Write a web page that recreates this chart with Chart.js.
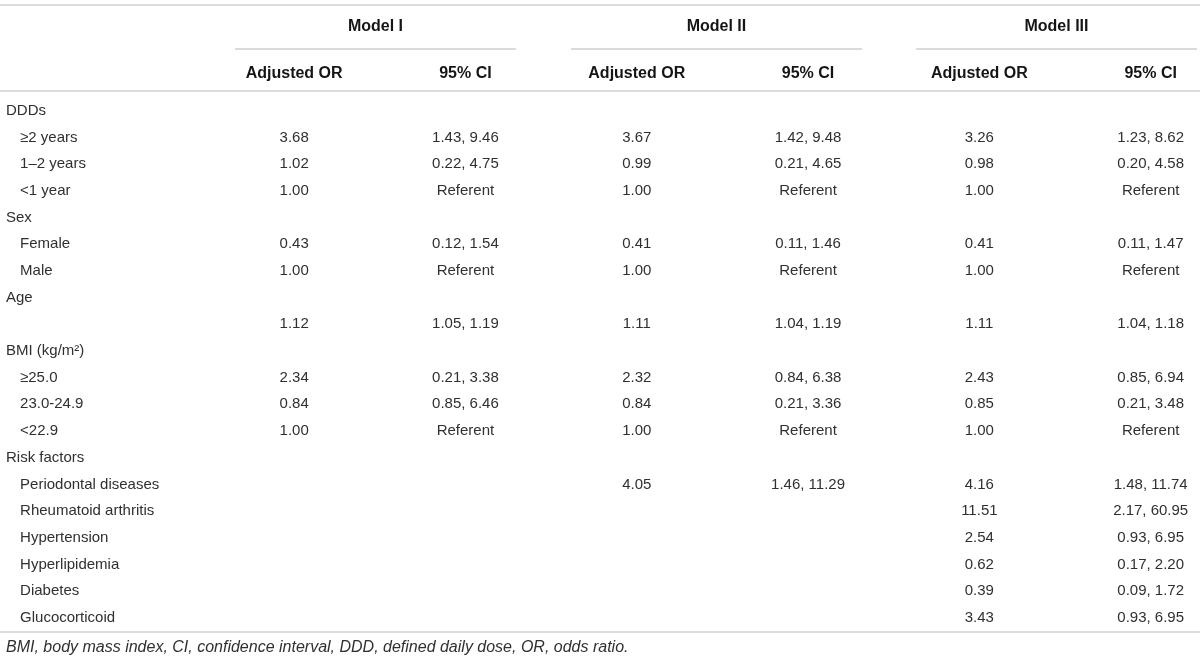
<!DOCTYPE html>
<html>
<head>
<meta charset="utf-8">
<script src="https://cdn.jsdelivr.net/npm/chart.js@4.4.1/dist/chart.umd.min.js"></script>
<style>
  html, body { margin: 0; padding: 0; background: #ffffff; }
  #wrap { width: 1200px; height: 670px; position: relative; }
</style>
</head>
<body>
<div id="wrap"><canvas id="c"></canvas></div>
<script>
// ---------- DATA ----------
const modelNames = ["Model I", "Model II", "Model III"];
const columnHeaders = ["Adjusted OR", "95% CI"];
const rowLabels = ["DDDs", "≥2 years", "1–2 years", "<1 year", "Sex", "Female", "Male", "Age", "",
  "BMI (kg/m²)", "≥25.0", "23.0-24.9", "<22.9", "Risk factors", "Periodontal diseases",
  "Rheumatoid arthritis", "Hypertension", "Hyperlipidemia", "Diabetes", "Glucocorticoid"];
const rowLevels = [0, 1, 1, 1, 0, 1, 1, 0, 1, 0, 1, 1, 1, 0, 1, 1, 1, 1, 1, 1];

const modelI_OR = [null, 3.68, 1.02, 1.00, null, 0.43, 1.00, null, 1.12, null, 2.34, 0.84, 1.00,
  null, null, null, null, null, null, null];
const modelI_CI = [null, "1.43, 9.46", "0.22, 4.75", "Referent", null, "0.12, 1.54", "Referent", null,
  "1.05, 1.19", null, "0.21, 3.38", "0.85, 6.46", "Referent", null, null, null, null, null, null, null];
const modelII_OR = [null, 3.67, 0.99, 1.00, null, 0.41, 1.00, null, 1.11, null, 2.32, 0.84, 1.00,
  null, 4.05, null, null, null, null, null];
const modelII_CI = [null, "1.42, 9.48", "0.21, 4.65", "Referent", null, "0.11, 1.46", "Referent", null,
  "1.04, 1.19", null, "0.84, 6.38", "0.21, 3.36", "Referent", null, "1.46, 11.29", null, null, null, null, null];
const modelIII_OR = [null, 3.26, 0.98, 1.00, null, 0.41, 1.00, null, 1.11, null, 2.43, 0.85, 1.00,
  null, 4.16, 11.51, 2.54, 0.62, 0.39, 3.43];
const modelIII_CI = [null, "1.23, 8.62", "0.20, 4.58", "Referent", null, "0.11, 1.47", "Referent", null,
  "1.04, 1.18", null, "0.85, 6.94", "0.21, 3.48", "Referent", null, "1.48, 11.74", "2.17, 60.95",
  "0.93, 6.95", "0.17, 2.20", "0.09, 1.72", "0.93, 6.95"];
const footnote = "BMI, body mass index, CI, confidence interval, DDD, defined daily dose, OR, odds ratio.";

// ---------- BUILD ----------
const columns = [modelI_OR, modelI_CI, modelII_OR, modelII_CI, modelIII_OR, modelIII_CI];
const cellText = v => (typeof v === "number" ? v.toFixed(2) : v);

// layout in scale units (rows on y, columns on x)
const LAYOUT = {
  topRule: -3.97, modelTitle: -3.17, modelRule: -2.32, colHead: -1.40, headRule: -0.76,
  bottomRule: 19.52, footnote: 20.12,
  labelX: [-1.682, -1.600],
  modelRuleFrom: [-0.345, -0.384, -0.37],
  modelRuleTo: [1.295, 1.315, 1.275]
};

const datasets = columns.map((col, c) => ({
  label: columnHeaders[c % 2] + " " + modelNames[Math.floor(c / 2)],
  data: col.map((v, r) => (v === null ? null : { x: c, y: r, t: cellText(v) })).filter(Boolean),
  pointRadius: 0,
  pointHoverRadius: 0,
  showLine: false
}));
datasets.push({
  label: "rows",
  data: rowLabels.map((t, r) => ({ x: LAYOUT.labelX[rowLevels[r]], y: r, t: t })),
  pointRadius: 0,
  pointHoverRadius: 0,
  showLine: false
});

const FONT = "'Liberation Sans', Arial, Helvetica, sans-serif";
const STYLE = {
  body: "15px " + FONT,
  bold: "bold 16px " + FONT,
  foot: "italic 16px " + FONT,
  text: "#303030",
  head: "#151515",
  rule: "#cfcfcf",
  ruleLight: "#dcdcdc"
};

const tablePlugin = {
  id: "tableText",
  afterDatasetsDraw(chart) {
    const ctx = chart.ctx, xs = chart.scales.x, ys = chart.scales.y, area = chart.chartArea;
    const rule = (x0, x1, y, color, w) => {
      ctx.strokeStyle = color; ctx.lineWidth = w;
      ctx.beginPath(); ctx.moveTo(x0, y); ctx.lineTo(x1, y); ctx.stroke();
    };
    const Y = v => Math.round(ys.getPixelForValue(v));
    ctx.save();
    rule(area.left, area.right, Y(LAYOUT.topRule), STYLE.ruleLight, 2);
    rule(area.left, area.right, Y(LAYOUT.headRule), STYLE.ruleLight, 2);
    rule(area.left, area.right, Y(LAYOUT.bottomRule), STYLE.rule, 1.5);
    modelNames.forEach((m, i) => {
      const base = i * 2;
      const x0 = xs.getPixelForValue(base + LAYOUT.modelRuleFrom[i]);
      const x1 = Math.min(area.right - 3, xs.getPixelForValue(base + LAYOUT.modelRuleTo[i]));
      rule(x0, x1, Y(LAYOUT.modelRule), STYLE.rule, 1.5);
      ctx.font = STYLE.bold; ctx.fillStyle = STYLE.head;
      ctx.textAlign = "center"; ctx.textBaseline = "middle";
      ctx.fillText(m, (x0 + x1) / 2, ys.getPixelForValue(LAYOUT.modelTitle));
      columnHeaders.forEach((h, j) => {
        ctx.fillText(h, xs.getPixelForValue(base + j), ys.getPixelForValue(LAYOUT.colHead));
      });
    });
    chart.data.datasets.forEach((ds, di) => {
      const meta = chart.getDatasetMeta(di);
      meta.data.forEach((el, k) => {
        const d = ds.data[k];
        if (!d.t) return;
        ctx.font = STYLE.body; ctx.fillStyle = STYLE.text; ctx.textBaseline = "middle";
        ctx.textAlign = ds.label === "rows" ? "left" : "center";
        ctx.fillText(d.t, el.x, el.y);
      });
    });
    ctx.font = STYLE.foot; ctx.fillStyle = STYLE.text; ctx.textAlign = "left"; ctx.textBaseline = "middle";
    ctx.fillText(footnote, xs.getPixelForValue(LAYOUT.labelX[0]), ys.getPixelForValue(LAYOUT.footnote));
    ctx.restore();
  }
};

new Chart(document.getElementById("c"), {
  type: "scatter",
  data: { datasets },
  options: {
    responsive: true,
    maintainAspectRatio: false,
    animation: false,
    layout: { padding: 0 },
    plugins: { legend: { display: false }, tooltip: { enabled: false }, title: { display: false } },
    events: [],
    scales: {
      x: { type: "linear", display: false, min: -1.717, max: 5.288 },
      y: { type: "linear", display: false, reverse: true, min: -4.16, max: 20.96 }
    }
  },
  plugins: [tablePlugin]
});
</script>
</body>
</html>
